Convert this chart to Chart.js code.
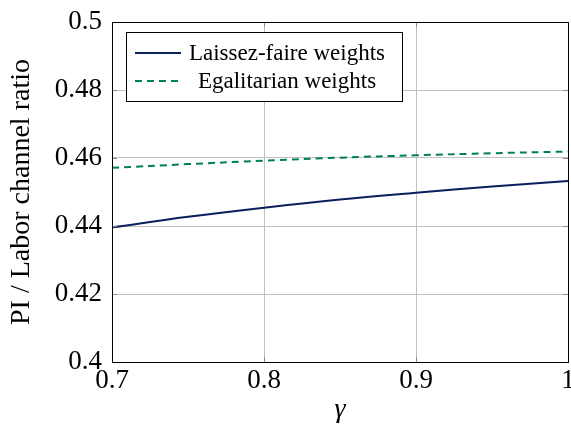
<!DOCTYPE html>
<html>
<head>
<meta charset="utf-8">
<script src="https://cdn.jsdelivr.net/npm/chart.js@4"></script>
<style>
  html, body { margin: 0; padding: 0; background: #fff; }
  #wrap { width: 571px; height: 424px; }
</style>
</head>
<body>
<div id="wrap"><canvas id="ratioChart"></canvas></div>
<script>
// data
var gamma = [0.7, 0.75, 0.8, 0.85, 0.9, 0.95, 1.0];
var laissezFaire = [0.4396, 0.4427, 0.4454, 0.4478, 0.4498, 0.4516, 0.4532];
var egalitarian = [0.4571, 0.4582, 0.4592, 0.4601, 0.4608, 0.4614, 0.4619];
var xTicks = [0.7, 0.8, 0.9, 1];
var yTicks = [0.4, 0.42, 0.44, 0.46, 0.48, 0.5];

var serif = "'Liberation Serif', 'DejaVu Serif', serif";

function pts(ys) {
  return gamma.map(function (g, i) { return { x: g, y: ys[i] }; });
}

function fmt(v) {
  return String(Number(v.toFixed(2)));
}

// pgfplots style frame, inner tick marks and legend box
var frameAndLegend = {
  id: 'frameAndLegend',
  afterDatasetsDraw: function (chart) {
    var c = chart.ctx, a = chart.chartArea;
    var xs = chart.scales.x, ys = chart.scales.y;
    c.save();

    // small tick marks inside the frame
    c.strokeStyle = '#8a8a8a';
    c.lineWidth = 1;
    c.beginPath();
    xTicks.forEach(function (v) {
      var px = Math.round(xs.getPixelForValue(v)) + 0.5;
      c.moveTo(px, a.bottom); c.lineTo(px, a.bottom - 5);
      c.moveTo(px, a.top); c.lineTo(px, a.top + 5);
    });
    yTicks.forEach(function (v) {
      var py = Math.round(ys.getPixelForValue(v)) + 0.5;
      c.moveTo(a.left, py); c.lineTo(a.left + 5, py);
      c.moveTo(a.right, py); c.lineTo(a.right - 5, py);
    });
    c.stroke();

    c.strokeStyle = '#000';
    c.strokeRect(Math.round(a.left) + 0.5, Math.round(a.top) + 0.5,
      Math.round(a.right - a.left), Math.round(a.bottom - a.top));

    var bx = 126, by = 32, bw = 276, bh = 69;
    c.fillStyle = '#fff';
    c.fillRect(bx, by, bw, bh);
    c.strokeRect(bx + 0.5, by + 0.5, bw, bh);

    c.font = '23px ' + serif;
    c.textAlign = 'center';
    c.textBaseline = 'middle';
    chart.data.datasets.forEach(function (ds, i) {
      var y = by + 21 + i * 28;
      c.beginPath();
      c.strokeStyle = ds.borderColor;
      c.lineWidth = ds.borderWidth;
      c.setLineDash(ds.borderDash || []);
      c.moveTo(135, y);
      c.lineTo(181, y);
      c.stroke();
      c.setLineDash([]);
      c.fillStyle = '#000';
      c.fillText(ds.label, 287, y + 1);
    });
    c.restore();
  }
};

new Chart(document.getElementById('ratioChart'), {
  type: 'line',
  data: {
    datasets: [{
      label: 'Laissez-faire weights',
      data: pts(laissezFaire),
      borderColor: '#0a1f5c',
      borderWidth: 2,
      tension: 0.4,
      pointRadius: 0
    }, {
      label: 'Egalitarian weights',
      data: pts(egalitarian),
      borderColor: '#00804a',
      borderWidth: 2,
      borderDash: [7, 5],
      tension: 0.4,
      pointRadius: 0
    }]
  },
  options: {
    responsive: true,
    maintainAspectRatio: false,
    animation: false,
    layout: { padding: { top: 22, right: 3, left: 0, bottom: 0 } },
    plugins: {
      legend: { display: false },
      tooltip: { enabled: false }
    },
    scales: {
      x: {
        type: 'linear',
        min: 0.7,
        max: 1,
        afterBuildTicks: function (s) { s.ticks = xTicks.map(function (v) { return { value: v }; }); },
        afterFit: function (s) { s.height = 62; s.paddingLeft = 0; s.paddingRight = 0; },
        grid: { color: '#c0c0c0', drawTicks: false },
        border: { display: false },
        ticks: {
          color: '#000',
          font: { family: serif, size: 27 },
          padding: 3,
          maxRotation: 0,
          callback: fmt
        },
        title: {
          display: true,
          text: 'γ',
          color: '#000',
          font: { family: serif, size: 28, style: 'italic', lineHeight: 1 },
          padding: { top: 0, bottom: 0 }
        }
      },
      y: {
        min: 0.4,
        max: 0.5,
        afterBuildTicks: function (s) { s.ticks = yTicks.map(function (v) { return { value: v }; }); },
        afterFit: function (s) { s.width = 112; s.paddingTop = 0; s.paddingBottom = 0; },
        grid: { color: '#c0c0c0', drawTicks: false },
        border: { display: false },
        ticks: {
          color: '#000',
          font: { family: serif, size: 27 },
          padding: 10,
          callback: fmt
        },
        title: {
          display: true,
          text: 'PI / Labor channel ratio',
          color: '#000',
          font: { family: serif, size: 28, lineHeight: 1.2 },
          padding: { top: 5, bottom: 0 }
        }
      }
    }
  },
  plugins: [frameAndLegend]
});
</script>
</body>
</html>
